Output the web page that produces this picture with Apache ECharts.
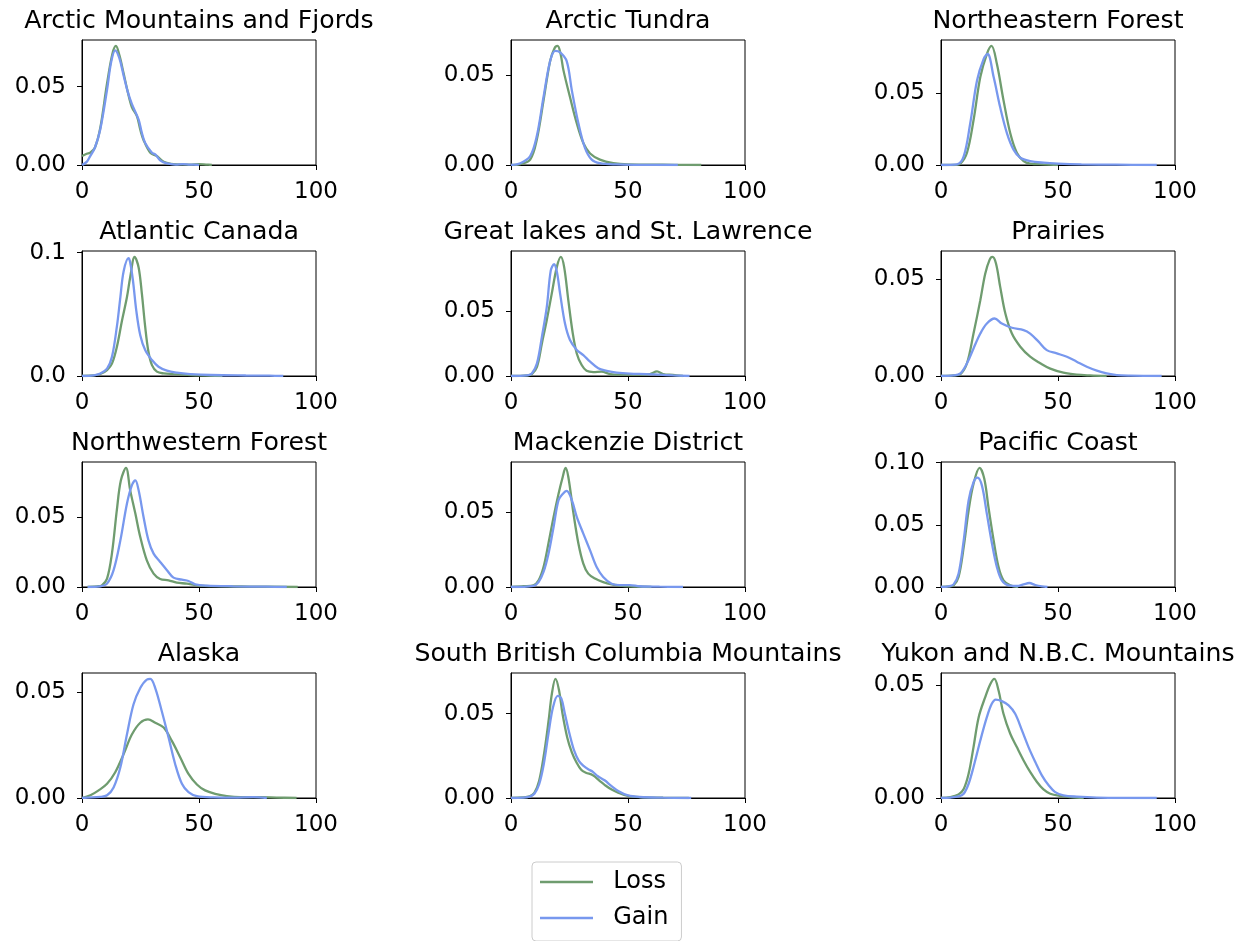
<!DOCTYPE html>
<html>
<head>
<meta charset="utf-8">
<script src="https://cdn.jsdelivr.net/npm/echarts@6/dist/echarts.min.js"></script>
<style>
html,body{margin:0;padding:0;background:#fff;}
#chart{width:1245px;height:941px;}
</style>
</head>
<body>
<div id="chart"></div>
<script>
const regionNames = [
  "Arctic Mountains and Fjords", "Arctic Tundra", "Northeastern Forest",
  "Atlantic Canada", "Great lakes and St. Lawrence", "Prairies",
  "Northwestern Forest", "Mackenzie District", "Pacific Coast",
  "Alaska", "South British Columbia Mountains", "Yukon and N.B.C. Mountains"
];
const seriesNames = ["Loss", "Gain"];
const xTickValues = [0, 50, 100];
const yTickValues = [[0,0.05],[0,0.05],[0,0.05],[0,0.1],[0,0.05],[0,0.05],[0,0.05],[0,0.05],[0,0.05,0.1],[0,0.05],[0,0.05],[0,0.05]];
const yTickDecimals = [2,2,2,1,2,2,2,2,2,2,2,2];

const lossAMF = [[0,0.0057],[2,0.0072],[3.5,0.0078],[5.5,0.011],[7.8,0.0236],[10.7,0.052],[13,0.071],[14.5,0.076],[16,0.070],[17.8,0.0584],[19.5,0.047],[21.3,0.037],[23.5,0.031],[25,0.022],[26.3,0.016],[29.2,0.0078],[32,0.0057],[34.9,0.002],[38,0.0007],[42,0.0004],[46,0.0003],[50,0.0006],[53,0.0003],[55.5,0]];
const gainAMF = [[0,0],[2,0.002],[3.5,0.0057],[5.5,0.011],[7.8,0.0226],[10.7,0.048],[12.5,0.066],[14.2,0.0732],[16,0.068],[17.8,0.057],[19.5,0.047],[21.3,0.039],[24.2,0.029],[25.5,0.021],[27,0.014],[29.9,0.0078],[31.3,0.0068],[33.4,0.003],[36.3,0.001],[40,0.0003],[43,0.0006],[46,0.0003],[50,0]];
const lossAT = [[0,0],[4,0.0005],[8.2,0.003],[11,0.014],[13.9,0.036],[16.7,0.058],[18.5,0.065],[19.9,0.0665],[21.2,0.062],[22.4,0.053],[25.2,0.038],[28.1,0.0233],[30.9,0.0123],[33.8,0.0064],[38,0.003],[43.7,0.001],[50,0.0003],[60,0.0002],[70,0.0001],[81.3,0]];
const gainAT = [[0,0],[4,0.001],[8.2,0.005],[11,0.016],[13.9,0.038],[16.7,0.058],[18.9,0.0638],[21,0.0629],[23.8,0.058],[26,0.0417],[28.8,0.0233],[31.6,0.0096],[34.5,0.003],[38,0.001],[45,0.0003],[55,0.0001],[71.3,0]];
const lossNEF = [[0,0],[5.4,0],[8.3,0.001],[11.1,0.0085],[13.9,0.031],[16.8,0.061],[19.6,0.077],[21.6,0.0826],[23.9,0.070],[26.7,0.045],[29.6,0.022],[32.4,0.0085],[35.3,0.0027],[38.1,0.001],[43.8,0.0005],[50,0]];
const gainNEF = [[0,0],[6.8,0.0005],[9.7,0.006],[12.5,0.029],[15.4,0.0587],[18.2,0.0735],[19.9,0.077],[22.5,0.061],[25.3,0.040],[28.2,0.022],[31,0.0107],[33.9,0.005],[38.1,0.0027],[43.8,0.0016],[50,0.001],[60,0.0005],[75,0.0002],[92.2,0]];
const lossAC = [[0,0],[5,0.0005],[7.8,0.0016],[10.7,0.0048],[12.8,0.010],[14.9,0.0236],[17.1,0.045],[19.2,0.0638],[20.6,0.080],[22.5,0.0965],[24.2,0.088],[25.6,0.0665],[27,0.040],[28.4,0.0196],[29.9,0.0088],[32,0.0035],[34.9,0.0021],[39.1,0.0016],[45,0.001],[50,0.0005],[60,0]];
const gainAC = [[0,0],[5,0.0005],[7.8,0.002],[10.7,0.006],[12.8,0.0155],[14.9,0.040],[16.4,0.064],[17.8,0.085],[19.9,0.0955],[20.6,0.092],[21.8,0.077],[23.2,0.053],[24.9,0.033],[27,0.021],[29.9,0.0129],[32.7,0.0075],[36.3,0.0043],[40.5,0.0027],[46.2,0.0016],[55,0.0008],[70,0.0004],[80,0.0003],[86,0]];
const lossGL = [[0,0],[6.8,0.0005],[8.9,0.0015],[11.1,0.007],[13.2,0.025],[15.3,0.043],[17.4,0.063],[19.6,0.0837],[21.3,0.0913],[22.7,0.0837],[24.5,0.058],[26.4,0.0327],[28.1,0.0173],[30.2,0.0084],[32.3,0.004],[35.2,0.003],[38.7,0.0033],[42.3,0.0015],[46.5,0.001],[53.6,0.001],[59.3,0.0015],[62.4,0.0036],[65,0.0015],[69.2,0.0008],[73.5,0]];
const gainGL = [[0,0],[6.8,0.0005],[8.9,0.002],[11.1,0.0097],[13.2,0.030],[15.3,0.053],[17,0.081],[18.4,0.0857],[19.6,0.080],[21,0.063],[23.1,0.040],[25.2,0.0276],[28.1,0.020],[30.9,0.016],[33.8,0.011],[37.3,0.0059],[40.9,0.004],[45.1,0.0026],[50.8,0.0018],[57.9,0.0015],[63.5,0.001],[69.2,0.0005],[76.3,0]];
const lossPR = [[0,0],[5.4,0.0003],[8.3,0.001],[11.1,0.0066],[13.9,0.022],[16.8,0.0393],[18.9,0.053],[20.8,0.0603],[22,0.0617],[23.5,0.0583],[25.3,0.0462],[27.5,0.0324],[30.3,0.022],[33.9,0.0152],[38.1,0.010],[42.4,0.0066],[46.7,0.0038],[52.3,0.0017],[58,0.0007],[63.7,0.0003],[70.8,0]];
const gainPR = [[0,0],[5.4,0.0003],[8.3,0.0014],[11.1,0.0066],[13.9,0.0143],[16.8,0.022],[19.6,0.0272],[22.9,0.0298],[26,0.0272],[30.3,0.025],[35.3,0.0238],[38.1,0.022],[41.7,0.0178],[45.2,0.0134],[49.5,0.0117],[53.8,0.010],[58,0.0074],[62.3,0.0048],[66.6,0.0028],[70.8,0.0014],[75.1,0.0005],[80.8,0.0002],[94.3,0]];
const lossNWF = [[2.4,0],[6.4,0.0005],[8.5,0.0012],[10.7,0.006],[12.8,0.024],[14.9,0.055],[16.6,0.076],[18.8,0.085],[20.6,0.069],[22.8,0.0524],[24.9,0.0357],[27.7,0.019],[30.6,0.0095],[33.4,0.0057],[37,0.0048],[40.5,0.0031],[44.8,0.0024],[49.1,0.0012],[57.6,0.0006],[71.8,0.0003],[92.2,0]];
const gainNWF = [[2.4,0],[7.8,0.0005],[10.7,0.0024],[13.5,0.012],[16.4,0.0333],[19.2,0.0595],[21.3,0.0726],[22.8,0.0762],[24.2,0.069],[26.3,0.050],[28.4,0.0333],[30.6,0.0238],[33.4,0.0179],[36.3,0.012],[39.1,0.0067],[42.7,0.0052],[45.5,0.0043],[48.4,0.0019],[53.3,0.001],[64.7,0.0005],[78.9,0.0002],[87.5,0]];
const lossMD = [[0,0],[5.4,0.0005],[9.6,0.0011],[11.8,0.0044],[13.9,0.0133],[16,0.029],[18.2,0.0467],[20.3,0.062],[22.1,0.0733],[23.3,0.0793],[24.5,0.0733],[26.7,0.049],[28.8,0.029],[30.9,0.0156],[33,0.0089],[35.9,0.0056],[39.4,0.0033],[43,0.0018],[46.5,0.001],[50.8,0.0005],[60,0]];
const gainMD = [[0,0],[9.6,0.0008],[11.8,0.0033],[13.9,0.010],[16,0.022],[18.2,0.040],[20.3,0.0578],[22.1,0.062],[23.8,0.064],[26,0.0578],[28.1,0.0467],[30.9,0.0356],[33.8,0.0244],[36.6,0.0133],[39.4,0.0067],[43,0.0022],[46.5,0.0013],[50.8,0.0013],[55,0.0005],[63.5,0.0002],[73.5,0]];
const lossPC = [[0,0],[3.3,0.0005],[5.4,0.0013],[7.5,0.008],[9.7,0.032],[11.8,0.0615],[13.9,0.083],[16.5,0.0957],[18.5,0.087],[20.3,0.064],[22.5,0.0374],[24.6,0.016],[26.7,0.0053],[29.6,0.0013],[33,0]];
const gainPC = [[0,0],[3.3,0.0005],[5.4,0.0021],[7.5,0.0107],[9.7,0.0374],[11.8,0.0695],[13.9,0.0842],[15.6,0.088],[17.5,0.0815],[19.6,0.0588],[21.8,0.0348],[23.9,0.016],[26,0.0053],[28.9,0.0013],[32.4,0.0008],[35.3,0.0021],[37.7,0.0032],[40.3,0.0016],[43.1,0.0005],[45.5,0]];
const lossAK = [[0,0],[3.6,0.0013],[7.1,0.0036],[10.7,0.0067],[14.2,0.0122],[17.8,0.0208],[21.3,0.030],[24.9,0.0356],[28.2,0.0372],[31.3,0.0356],[34.9,0.0333],[38.4,0.027],[42,0.0192],[45.5,0.0114],[49.1,0.0064],[52.6,0.0036],[56.9,0.002],[61.9,0.0009],[67.6,0.0004],[76.1,0.0004],[83.2,0.0002],[91.7,0]];
const gainAK = [[0,0],[7.8,0.0005],[10.7,0.0013],[13.5,0.005],[16.4,0.0145],[19.2,0.030],[22,0.0442],[24.9,0.052],[27.7,0.056],[29.2,0.0563],[31.3,0.052],[34.1,0.041],[37,0.0286],[39.8,0.0161],[42.7,0.0067],[45.5,0.0028],[49.1,0.0009],[56.2,0.0003],[64.7,0.0002],[73.3,0.0004],[79,0]];
const lossSBC = [[0,0],[5,0.0003],[8,0.001],[10,0.003],[12,0.01],[14,0.025],[16,0.045],[17.5,0.062],[19,0.0705],[20.5,0.064],[22,0.05],[24,0.036],[26,0.027],[28,0.021],[30,0.0167],[32,0.015],[35,0.0135],[38,0.01],[40,0.0078],[43,0.005],[46,0.003],[50,0.0012],[55,0.0005],[65,0.0002],[76,0]];
const gainSBC = [[0,0],[5,0.0002],[8,0.0008],[10,0.0025],[12,0.008],[14,0.02],[16,0.038],[18,0.054],[20,0.0605],[21.5,0.059],[23,0.05],[25,0.038],[27,0.028],[29,0.022],[31,0.019],[33,0.017],[35,0.0155],[37,0.013],[40,0.0105],[43,0.007],[46,0.004],[50,0.0015],[55,0.0006],[65,0.0002],[77,0]];
const lossYK = [[0,0],[4,0.0004],[7.5,0.0016],[9.7,0.004],[11.8,0.0107],[13.9,0.0225],[16.1,0.0357],[18.9,0.0446],[21.1,0.0504],[22.8,0.0526],[24.6,0.0475],[26.7,0.0372],[29.6,0.0284],[32.4,0.0225],[35.3,0.0166],[38.1,0.0115],[41,0.0071],[43.8,0.0038],[46.7,0.0019],[51,0.0009],[55.2,0.0004],[61,0]];
const gainYK = [[0,0],[4,0.0002],[7.5,0.0007],[9.7,0.0019],[11.8,0.0063],[13.9,0.0137],[16.8,0.0254],[19.6,0.0357],[21.7,0.0416],[23.4,0.0435],[26,0.0428],[28.9,0.0409],[31.7,0.0372],[34.6,0.0299],[37.4,0.0225],[40.3,0.0159],[43.1,0.010],[46,0.0056],[48.8,0.0026],[52.3,0.0012],[58,0.0006],[66.6,0.0002],[92.2,0]];

const lossCurves = [lossAMF, lossAT, lossNEF, lossAC, lossGL, lossPR, lossNWF, lossMD, lossPC, lossAK, lossSBC, lossYK];
const gainCurves = [gainAMF, gainAT, gainNEF, gainAC, gainGL, gainPR, gainNWF, gainMD, gainPC, gainAK, gainSBC, gainYK];

// layout (pixels)
const colLeft = [82, 511, 941];
const rowTop = [40, 251, 462, 673];
const plotW = 234, plotH = 125;
const FONT = "DejaVu Sans";
const lossColor = "#6f9c6f";
const gainColor = "#7898ee";

const grids = [], xAxes = [], yAxes = [], titles = [], series = [];
regionNames.forEach((name, i) => {
  const r = Math.floor(i / 3), c = i % 3;
  grids.push({
    left: colLeft[c], top: rowTop[r], width: plotW, height: plotH,
    show: true, borderColor: "#000", borderWidth: 1, backgroundColor: "transparent"
  });
  titles.push({
    text: name, left: colLeft[c] + plotW / 2, top: rowTop[r] - 31,
    textAlign: "center", padding: 0,
    textStyle: { fontFamily: FONT, fontSize: 25.2, fontWeight: "normal", color: "#000" }
  });
  const peak = Math.max(...lossCurves[i].map(p => p[1]), ...gainCurves[i].map(p => p[1]));
  xAxes.push({
    gridIndex: i, type: "value", min: 0, max: 100,
    axisLine: { show: true, lineStyle: { color: "#000", width: 1 } },
    axisTick: { show: true, length: 5, lineStyle: { color: "#000" }, customValues: xTickValues },
    axisLabel: { customValues: xTickValues, margin: 16, fontFamily: FONT, fontSize: 23, color: "#000" },
    splitLine: { show: false }
  });
  const dec = yTickDecimals[i];
  yAxes.push({
    gridIndex: i, type: "value", min: 0, max: peak * 1.05,
    axisLine: { show: true, lineStyle: { color: "#000", width: 1 } },
    axisTick: { show: true, length: 5, lineStyle: { color: "#000" }, customValues: yTickValues[i] },
    axisLabel: { customValues: yTickValues[i], margin: 16, fontFamily: FONT, fontSize: 23, color: "#000",
      formatter: v => Number(v).toFixed(dec) },
    splitLine: { show: false }
  });
  series.push({
    name: seriesNames[0], type: "line", xAxisIndex: i, yAxisIndex: i,
    data: lossCurves[i], showSymbol: false, symbol: "none", smooth: 0.35,
    lineStyle: { color: lossColor, width: 2.3 }, itemStyle: { color: lossColor }, z: 2
  });
  series.push({
    name: seriesNames[1], type: "line", xAxisIndex: i, yAxisIndex: i,
    data: gainCurves[i], showSymbol: false, symbol: "none", smooth: 0.35,
    lineStyle: { color: gainColor, width: 2.3 }, itemStyle: { color: gainColor }, z: 3
  });
});

const chart = echarts.init(document.getElementById("chart"), null, { renderer: "canvas" });
chart.setOption({
  animation: false,
  backgroundColor: "#fff",
  title: titles,
  grid: grids,
  xAxis: xAxes,
  yAxis: yAxes,
  legend: {
    data: seriesNames,
    orient: "vertical",
    left: 532, top: 862,
    padding: [7, 13, 10, 8],
    icon: "path://M0,0 H53 V2.3 H0 Z",
    itemWidth: 53, itemHeight: 2.3, itemGap: 10,
    borderColor: "#cccccc", borderWidth: 1, borderRadius: 4,
    backgroundColor: "#fff",
    formatter: n => "  " + n,
    textStyle: { fontFamily: FONT, fontSize: 24, color: "#000", lineHeight: 26 }
  },
  series: series
});
</script>
</body>
</html>
